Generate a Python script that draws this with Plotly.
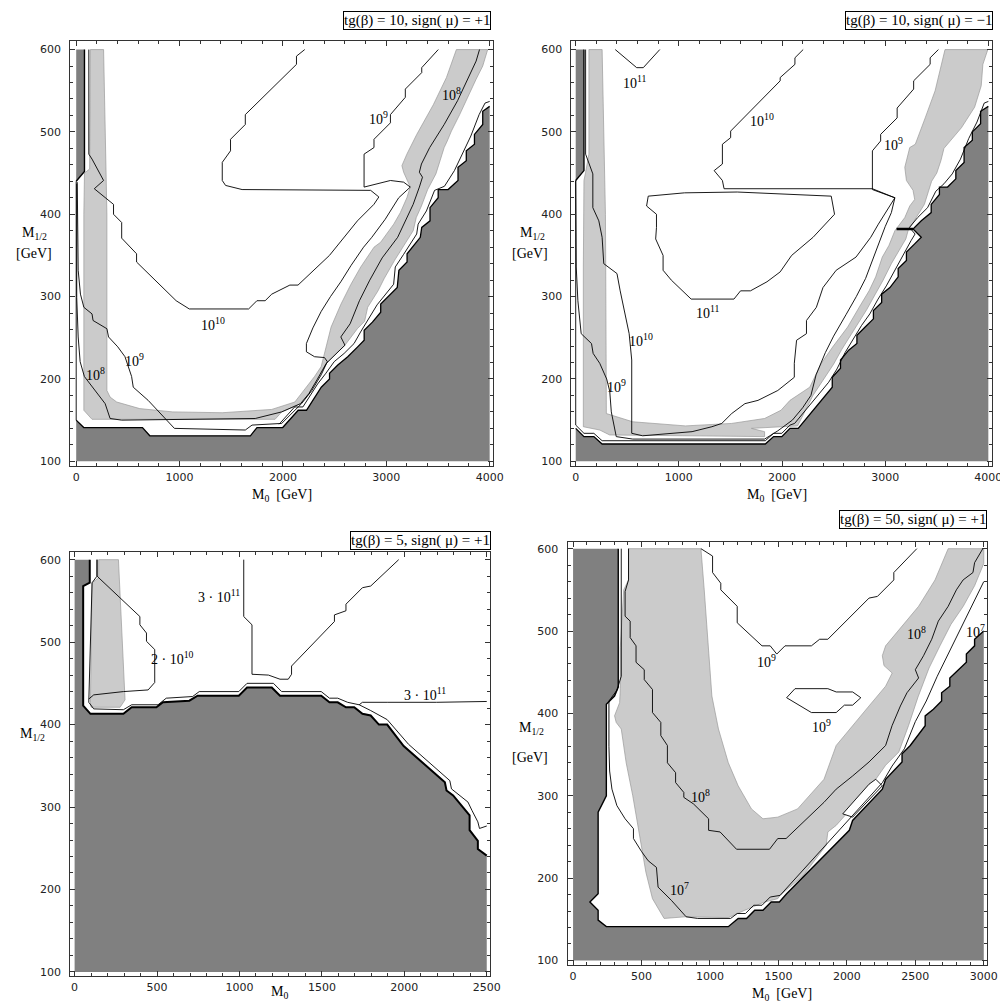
import plotly.graph_objects as go

DARK = '#808080'
LIGHT = '#cbcbcb'

# ======================= DATA =======================
# ---- Panel 1 : tg(beta)=10, sign(mu)=+1 ----
p1_title = 'tg(β) = 10, sign( μ) = +1'
p1_dark_strip = [(0, 600), (80, 600), (80, 452), (0, 440)]
p1_dark = [(0,100),(0,150),(73,141),(641,141),(712,131),(1685,131),(1749,141),(1998,141),(2148,162),(2228,162),
           (2371,190),(2451,200),(2451,207),(2531,217),(2627,227),(2723,239),(2786,247),(2786,259),(2866,269),(2946,281),
           (2946,291),(3106,311),(3122,332),(3201,342),(3201,352),(3329,372),(3343,384),(3423,392),(3423,408),(3502,420),
           (3502,430),(3598,430),(3694,441),(3694,457),(3774,465),(3774,477),(3853,485),(3853,497),(3933,509),(3933,525),
           (3990,531),(4000,531),(4000,100)]
p1_grey = [(137,600),(130,455),(80,450),(74,400),(74,162),(153,151),(1924,151),(1988,160),(2170,170),(2250,182),
           (2330,199),(2420,219),(2600,241),(2720,261),(2790,270),(2820,287),(2920,307),(2980,322),(3080,344),(3200,368),
           (3260,380),(3290,396),(3340,410),(3400,430),(3480,449),(3520,465),(3560,481),(3590,489),(3630,501),(3710,521),
           (3800,546),(3869,564),(3933,580),(3981,600),(3678,600),(3582,566),(3455,533),(3295,497),(3199,473),(3151,459),
           (3168,451),(3232,433),(3199,420),(3136,402),(3072,388),(2945,366),(2881,360),(2753,336),(2658,315),(2562,291),
           (2466,263),(2402,231),(2370,215),(2306,203),(2200,185),(2115,172),(1892,163),(1413,159),(935,160),(615,164),
           (392,172),(328,178),(297,186),(297,400),(265,600)]
p1_c8 = [(5,437),(5,299),(19,251),(38,221),(79,203),(153,191),(201,182),(280,170),(328,152),(440,150),(1732,152),
         (1988,160),(2170,170),(2250,182),(2330,199),(2420,219),(2600,241),(2560,251),(2650,267),(2740,295),(2840,320),
         (2960,347),(3110,372),(3200,396),(3260,412),(3320,433),(3350,445),(3320,451),(3340,461),(3420,481),(3500,497),
         (3560,509),(3690,538),(3790,566),(3869,586),(3902,600)]
p1_c9 = [(10,439),(19,332),(41,303),(74,287),(153,279),(163,271),(297,261),(313,251),(402,239),(472,227),(536,203),
         (552,190),(696,174),(950,140),(1636,138),(1701,144),(1988,146),(2067,156),(2180,170),(2280,186),(2370,205),
         (2430,221),(2402,226),(2306,227),(2227,233),(2227,243),(2290,262),(2370,282),(2460,300),(2560,318),(2660,338),
         (2780,360),(2860,372),(2990,394),(3060,408),(3120,420),(3232,433),(3168,439),(3040,441),(2785,433),(2785,473),
         (2881,481),(2881,491),(3040,511),(3040,521),(3184,542),(3184,552),(3343,572),(3343,578),(3503,600)]
p1_c10 = [(122,600),(122,473),(153,467),(265,441),(175,431),(361,412),(361,400),(440,390),(440,371),(584,352),
          (584,342),(967,295),(1094,285),(1668,285),(1748,295),(1828,295),(1892,303),(2067,314),(2146,314),(2450,350),
          (2721,392),(2880,412),(2928,421),(2849,429),(1605,430),(1445,435),(1413,441),(1413,463),(1493,477),(1493,491),
          (1636,509),(1636,521),(2131,582),(2131,592),(2211,600)]
p1_edge = [(1963,145),(2113,166),(2193,166),(2336,194),(2416,207),(2496,221),(2592,231),(2688,243),(2751,257),
           (2831,273),(2911,290),(3071,315),(3087,336),(3166,351),(3294,376),(3308,388),(3388,404),(3467,429),(3563,434),
           (3659,453),(3739,475),(3818,495),(3898,521),(3955,535),(4000,537)]
p1_edge_left = [(0, 440), (0, 150)]
p1_labels = [('10<sup>10</sup>', 1321, 267), ('10<sup>9</sup>', 565, 223), ('10<sup>9</sup>', 2928, 517),
             ('10<sup>8</sup>', 182, 206), ('10<sup>8</sup>', 3627, 546)]

# ---- Panel 2 : tg(beta)=10, sign(mu)=-1 ----
p2_title = 'tg(β) = 10, sign( μ) = −1'
p2_dark_strip = [(0, 600), (80, 600), (80, 453), (0, 441)]
p2_dark = [(0,100),(0,140),(80,130),(176,130),(256,121),(1838,121),(1918,130),(1998,130),(2077,140),(2157,140),
           (2487,190),(2487,202),(2567,213),(2567,223),(2646,235),(2726,243),(2726,253),(2806,263),(2886,273),(2886,283),
           (2966,293),(2966,303),(3046,311),(3126,324),(3126,334),(3206,344),(3206,354),(3286,364),(3350,372),(3270,382),
           (3350,392),(3446,402),(3446,412),(3526,424),(3526,433),(3605,433),(3685,443),(3685,453),(3765,463),(3765,481),
           (3845,490),(3845,500),(3925,510),(3925,525),(4000,531),(4000,100)]
p2_grey = [(128,600),(128,473),(96,451),(80,441),(74,336),(74,142),(233,138),(329,132),(1831,130),(1831,136),
           (1703,140),(2151,143),(2300,180),(2420,202),(2500,218),(2580,236),(2660,252),(2740,268),(2820,284),(2900,302),
           (2980,320),(3060,340),(3140,358),(3200,370),(3222,380),(3302,396),(3380,412),(3420,428),(3450,440),(3500,450),
           (3540,465),(3570,480),(3650,492),(3739,505),(3867,530),(3931,556),(3947,582),(3995,600),(3580,600),(3548,582),
           (3484,550),(3388,517),(3292,485),(3238,481),(3190,457),(3206,441),(3270,429),(3286,418),(3238,410),(3190,396),
           (3094,380),(3036,362),(2972,348),(2908,324),(2844,307),(2748,287),(2636,263),(2492,239),(2381,219),(2269,190),
           (2077,174),(1990,162),(1831,152),(1512,146),(1064,143),(553,148),(329,156),(297,158),(291,336),(288,400),
           (256,600)]
p2_c9 = [(0,441),(3,400),(5,336),(21,295),(53,255),(153,243),(169,231),(233,219),(300,200),(330,185),(345,160),
         (393,130),(553,127),(1831,127),(1959,137),(2100,150),(2200,165),(2280,180),(2330,205),(2420,232),(2500,252),
         (2620,278),(2720,300),(2810,322),(2880,345),(2940,365),(3000,385),(3060,402),(3094,420),(2876,430),(2876,477),
         (2956,489),(2956,497),(3116,517),(3116,529),(3276,552),(3276,562),(3436,582),(3436,590),(3516,600)]
p2_c10 = [(96,600),(96,473),(166,449),(166,408),(224,392),(256,372),(272,340),(400,328),(431,307),(479,279),
          (518,255),(543,223),(543,134),(649,131),(873,133),(1128,136),(1320,142),(1416,146),(1512,158),(1640,170),
          (1767,174),(1959,186),(2119,202),(2119,219),(2141,247),(2237,255),(2237,271),(2333,287),(2397,311),(2525,332),
          (2717,348),(2860,372),(2934,388),(3014,404),(3094,420),(2876,431),(1438,431),(1422,441),(1342,453),(1422,461),
          (1422,485),(1502,493),(1502,501),(1982,562),(1982,566),(2125,582),(2125,590),(2205,600)]
p2_c11a = [(383,600),(591,578),(655,578),(815,600)]
p2_c11b = [(703,422),(1055,426),(1566,427),(2477,422),(2509,400),(2301,372),(2093,350),(1982,330),(1854,318),
           (1694,307),(1598,307),(1534,297),(1119,297),(927,320),(847,332),(847,350),(775,370),(783,384),(783,400),
           (687,410),(703,422)]
p2_edge = [(0,441),(0,144),(80,134),(176,134),(256,125),(1838,125),(1918,134),(1998,134),(2077,144),(2122,146),
           (2452,196),(2532,212),(2611,232),(2691,249),(2771,265),(2851,279),(2931,297),(3011,313),(3091,332),(3171,350),
           (3251,368),(3290,376),(3235,384),(3315,396),(3411,408),(3491,428),(3570,437),(3650,449),(3730,467),(3810,492),
           (3890,512),(3960,535),(4000,537)]
p2_notch = [(3110, 382), (3270, 382)]
p2_labels = [('10<sup>11</sup>', 575, 560), ('10<sup>11</sup>', 1278, 281), ('10<sup>10</sup>', 1806, 515),
             ('10<sup>10</sup>', 633, 247), ('10<sup>9</sup>', 393, 192), ('10<sup>9</sup>', 3084, 485)]

# ---- Panel 3 : tg(beta)=5, sign(mu)=+1 ----
p3_title = 'tg(β) = 5, sign( μ) = +1'
p3_dark = [(0,100),(0,600),(92,600),(92,572),(52,568),(52,423),(96,413),(296,413),(346,421),(496,421),(536,427),
           (696,429),(746,435),(996,435),(1046,445),(1196,445),(1246,435),(1496,435),(1546,427),(1596,427),(1646,421),
           (1696,421),(1746,413),(1796,411),(1846,400),(1896,400),(1996,374),(2246,330),(2256,320),(2296,314),(2346,302),
           (2396,290),(2396,272),(2446,259),(2446,249),(2496,241),(2500,241),(2500,100)]
p3_grey = [(146,600),(266,600),(306,430),(276,421),(100,421),(96,427),(106,572),(146,578)]
p3_edge = [(136,600),(136,580),(106,572),(86,427),(116,419),(296,418),(346,424),(506,424),(556,432),(716,434),
           (756,440),(996,440),(1046,450),(1206,450),(1256,440),(1496,440),(1546,432),(1596,432),(1656,427),(1726,424),
           (1796,417),(1896,406),(2026,376),(2276,332),(2286,322),(2386,306),(2410,296),(2446,282),(2456,274),(2500,277)]
p3_c2e10 = [(136,600),(136,580),(396,531),(396,521),(436,511),(436,501),(486,491),(486,451),(446,442),(296,440),
            (116,436),(86,431)]
p3_c3e11a = [(1026,600),(1026,531),(1076,521),(1076,461),(1176,460),(1246,455),(1296,455),(1316,461),(1316,471),
             (1576,525),(1576,533),(1646,538),(1646,546),(1746,566),(1796,568),(1966,600)]
p3_c3e11b = [(1726,424),(1746,427),(1896,427),(2196,427),(2500,428)]
p3_labels = [('2 · 10<sup>10</sup>', 596, 481), ('3 · 10<sup>11</sup>', 876, 556), ('3 · 10<sup>11</sup>', 2126, 437)]

# ---- Panel 4 : tg(beta)=50, sign(mu)=+1 ----
p4_title = 'tg(β) = 50, sign( μ) = +1'
p4_dark = [(0,100),(0,600),(330,600),(330,432),(303,421),(243,411),(243,300),(183,280),(183,181),(123,171),
           (183,161),(183,149),(243,141),(1134,141),(1206,151),(1267,151),(1327,161),(1387,161),(1447,171),(1507,171),
           (1560,181),(2018,258),(2042,270),(2259,308),(2283,320),(2403,341),(2403,351),(2463,361),(2572,385),(2572,397),
           (2632,405),(2692,415),(2692,425),(2752,433),(2752,443),(2813,453),(2873,462),(2873,472),(2933,482),(2933,490),
           (2993,498),(3000,500),(3000,100)]
p4_grey = [(405,600),(405,562),(370,550),(360,518),(345,480),(345,430),(340,413),(303,397),(315,389),(352,381),
           (388,340),(436,300),(496,240),(532,207),(580,175),(665,151),(821,153),(1134,152),(1255,161),(1399,171),
           (1495,175),(1512,179),(1681,203),(1849,240),(1861,256),(1922,264),(2018,282),(2114,296),(2211,320),(2283,337),
           (2379,353),(2450,385),(2520,420),(2600,455),(2680,482),(2760,508),(2850,530),(2933,555),(3000,582),(3000,600),
           (2740,600),(2644,562),(2524,530),(2403,506),(2283,482),(2259,470),(2271,458),(2331,449),(2283,433),(2162,409),
           (2042,385),(1922,361),(1833,320),(1640,284),(1495,274),(1387,272),(1303,284),(1206,312),(1134,340),(1062,381),
           (1014,421),(990,482),(958,550),(934,600)]
p4_c7 = [(352,600),(352,445),(320,428),(262,415),(262,360),(267,330),(284,308),(320,288),(380,272),(441,260),
         (441,248),(501,232),(549,221),(609,213),(621,189),(718,173),(826,153),(910,151),(1151,151),(1199,157),
         (1259,157),(1320,167),(1380,167),(1440,177),(1512,179),(1600,195),(1750,222),(1900,250),(2030,274),(2150,296),
         (2260,316),(2330,336),(2420,357),(2500,390),(2580,415),(2660,445),(2740,472),(2800,492),(2860,512),(2933,537),
         (3000,560)]
p4_c8 = [(405,600),(405,562),(380,548),(380,518),(417,512),(417,492),(460,482),(460,462),(520,453),(520,441),
         (580,429),(580,401),(641,389),(641,373),(689,361),(689,340),(749,328),(749,316),(809,304),(809,298),(880,290),
         (990,272),(990,258),(1074,256),(1194,235),(1435,235),(1495,248),(1556,248),(1833,292),(1922,308),(2042,324),
         (2162,341),(2283,361),(2330,385),(2391,409),(2439,425),(2524,443),(2500,453),(2560,470),(2620,490),(2668,512),
         (2740,530),(2800,550),(2849,562),(2921,571),(2933,583),(2993,600)]
p4_c9a = [(934,600),(1019,591),(1019,571),(1079,558),(1079,550),(1199,530),(1199,510),(1380,482),(1440,482),
          (1488,472),(1548,482),(1621,482),(1741,482),(1801,490),(1861,490),(2162,540),(2223,542),(2343,562),
          (2343,571),(2511,600)]
p4_c9b = [(1560,419),(1621,430),(1861,430),(1922,426),(2042,426),(2102,419),(2042,410),(1982,410),(1922,401),
          (1741,401),(1560,419)]
p4_lens = [(1970,278),(2162,314),(2211,320),(2259,312),(2042,274),(1970,278)]
p4_labels = [('10<sup>9</sup>', 1416, 464), ('10<sup>9</sup>', 1813, 385), ('10<sup>8</sup>', 934, 300),
             ('10<sup>8</sup>', 2512, 498), ('10<sup>7</sup>', 778, 187), ('10<sup>7</sup>', 2940, 500)]

# ======================= FIGURE =======================
fig = go.Figure()


def axref(k):
    return ('x', 'y') if k == 1 else ('x%d' % k, 'y%d' % k)


def add_poly(pts, k, color, lw=0.0, lc=None):
    xa, ya = axref(k)
    xs = [p[0] for p in pts] + [pts[0][0]]
    ys = [p[1] for p in pts] + [pts[0][1]]
    fig.add_trace(go.Scatter(x=xs, y=ys, mode='lines', fill='toself', fillcolor=color,
                             line=dict(width=lw, color=lc or color), xaxis=xa, yaxis=ya,
                             hoverinfo='skip', showlegend=False))


def add_line(pts, k, width=0.9, color='black'):
    xa, ya = axref(k)
    fig.add_trace(go.Scatter(x=[p[0] for p in pts], y=[p[1] for p in pts], mode='lines',
                             line=dict(width=width, color=color), xaxis=xa, yaxis=ya,
                             hoverinfo='skip', showlegend=False))


GREY_EDGE = '#9a9a9a'

# Panel 1
add_poly(p1_grey, 1, LIGHT, 0.7, GREY_EDGE)
add_poly(p1_dark_strip, 1, DARK)
add_poly(p1_dark, 1, DARK)
for c in (p1_c8, p1_c9, p1_c10, p1_edge, p1_edge_left):
    add_line(c, 1)
add_line(p1_dark_strip[1:], 1, 1.4)
add_line(p1_dark[1:-1], 1, 1.3)

# Panel 2
add_poly(p2_grey, 2, LIGHT, 0.7, GREY_EDGE)
add_poly(p2_dark_strip, 2, DARK)
add_poly(p2_dark, 2, DARK)
for c in (p2_c9, p2_c10, p2_c11a, p2_c11b, p2_edge):
    add_line(c, 2)
add_line(p2_dark_strip[1:], 2, 1.4)
add_line(p2_dark[1:-1], 2, 1.3)
add_line(p2_notch, 2, 2.5)

# Panel 3
add_poly(p3_grey, 3, LIGHT, 0.7, GREY_EDGE)
add_poly(p3_dark, 3, DARK)
for c in (p3_edge, p3_c2e10, p3_c3e11a, p3_c3e11b):
    add_line(c, 3)
add_line(p3_dark[2:-1], 3, 2.0)

# Panel 4
add_poly(p4_grey, 4, LIGHT, 0.7, GREY_EDGE)
add_poly(p4_dark, 4, DARK)
add_poly(p4_lens, 4, 'white', 0.9, 'black')
for c in (p4_c7, p4_c8, p4_c9a, p4_c9b):
    add_line(c, 4)
add_line(p4_dark[2:-1], 4, 1.4)

# ---- axes ----
W, H = 1008, 1005
panels = {
    1: dict(px=(63, 490), py=(33, 459.3), xr=[-57, 4029], yr=[94.4, 610.5], xd=1000, xm=200),
    2: dict(px=(569.7, 994.7), py=(33, 459.3), xr=[-41, 4034], yr=[94.4, 610.5], xd=1000, xm=200),
    3: dict(px=(63, 487.7), py=(545.7, 970.7), xr=[-26, 2522], yr=[95.3, 609.2], xd=500, xm=100),
    4: dict(px=(565.7, 990), py=(536, 960), xr=[-40.5, 3025], yr=[94.3, 607.6], xd=500, xm=100),
}
tickfont = dict(family='DejaVu Sans', size=11, color='#222')
layout = {}
for k, p in panels.items():
    xa, ya = axref(k)
    common = dict(showline=True, linecolor='#333', linewidth=1, mirror='ticks', ticks='inside',
                  ticklen=5, tickwidth=1, tickcolor='#333', showgrid=False, zeroline=False,
                  tickfont=tickfont, fixedrange=True)
    layout['xaxis' if k == 1 else 'xaxis%d' % k] = dict(
        domain=[p['px'][0] / W, p['px'][1] / W], range=p['xr'], anchor=ya, tick0=0, dtick=p['xd'],
        ticklabelstandoff=1,
        minor=dict(ticks='inside', dtick=p['xm'], ticklen=3, tickcolor='#333'), **common)
    layout['yaxis' if k == 1 else 'yaxis%d' % k] = dict(
        domain=[1 - p['py'][1] / H, 1 - p['py'][0] / H], range=p['yr'], anchor=xa, tick0=0, dtick=100,
        ticklabelstandoff=6,
        minor=dict(ticks='inside', dtick=20, ticklen=3, tickcolor='#333'), **common)

annotations = []
serif = 'Liberation Serif'
# contour labels
for k, labs in ((1, p1_labels), (2, p2_labels), (3, p3_labels), (4, p4_labels)):
    xa, ya = axref(k)
    for txt, lx, ly in labs:
        annotations.append(dict(text=txt, x=lx, y=ly, xref=xa, yref=ya, showarrow=False,
                                font=dict(family=serif, size=14, color='black')))


def pa(px, py, text, size=14, xanchor='center', yanchor='middle', box=False):
    d = dict(text=text, x=px / W, y=1 - py / H, xref='paper', yref='paper', showarrow=False,
             xanchor=xanchor, yanchor=yanchor, font=dict(family=serif, size=size, color='black'))
    if box:
        d.update(bordercolor='black', borderwidth=1, borderpad=0, bgcolor='white')
    return d


# titles in boxes
annotations.append(pa(488, 22.5, p1_title, 15, 'right', 'bottom', True))
annotations.append(pa(996, 22.5, p2_title, 15, 'right', 'bottom', True))
annotations.append(pa(488, 543.5, p3_title, 15, 'right', 'bottom', True))
annotations.append(pa(990, 522.5, p4_title, 15, 'right', 'bottom', True))
# axis titles
annotations += [
    pa(277, 489, 'M<sub>0</sub>  [GeV]'), pa(777, 489, 'M<sub>0</sub>  [GeV]'),
    pa(274, 987, 'M<sub>0</sub>'), pa(783, 989, 'M<sub>0</sub>  [GeV]'),
    pa(27, 226, 'M<sub>1/2</sub>'), pa(26, 246, '[GeV]'),
    pa(530, 226, 'M<sub>1/2</sub>'), pa(528, 246, '[GeV]'),
    pa(25, 729, 'M<sub>1/2</sub>'),
    pa(529, 723, 'M<sub>1/2</sub>'), pa(528, 752, '[GeV]'),
]

fig.update_layout(width=W, height=H, margin=dict(l=0, r=0, t=0, b=0), paper_bgcolor='white',
                  plot_bgcolor='white', showlegend=False, annotations=annotations, **layout)
fig.write_html('out.html')
